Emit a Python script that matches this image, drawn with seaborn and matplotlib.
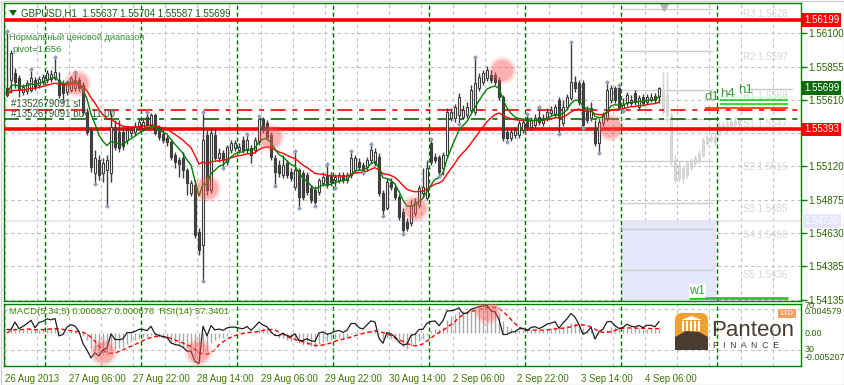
import numpy as np
import pandas as pd
import matplotlib
matplotlib.use("Agg")
import matplotlib.pyplot as plt
import matplotlib.transforms as mtransforms
from matplotlib.patches import Rectangle, Polygon, FancyBboxPatch
import seaborn as sns

sns.set_theme(style="white")
plt.rcParams['font.family'] = ['Liberation Sans', 'DejaVu Sans']

# ---------------- data ----------------
symbol_title = "GBPUSD,H1  1.55637 1.55704 1.55587 1.55699"
x_labels = ["26 Aug 2013", "27 Aug 06:00", "27 Aug 22:00", "28 Aug 14:00", "29 Aug 06:00",
            "29 Aug 22:00", "30 Aug 14:00", "2 Sep 06:00", "2 Sep 22:00", "3 Sep 14:00", "4 Sep 06:00"]
x_label_bars = [0, 16, 32, 48, 64, 80, 96, 112, 128, 144, 160]
day_start_bars = [10, 34, 58, 82, 106, 130, 154, 178]

opens = [1.55697, 1.55756, 1.55808, 1.55771, 1.55668, 1.55675, 1.55683, 1.55756, 1.55719, 1.55741,
         1.55756, 1.55764, 1.55771, 1.55756, 1.55734, 1.55668, 1.55683, 1.55697, 1.55756, 1.55719,
         1.55521, 1.55388, 1.55072, 1.55167, 1.55072, 1.55094, 1.55072, 1.55410, 1.55374, 1.55374,
         1.55315, 1.55366, 1.55374, 1.55410, 1.55403, 1.55484, 1.55425, 1.55499, 1.55403, 1.55359,
         1.55329, 1.55300, 1.55204, 1.55167, 1.55182, 1.55094, 1.54925, 1.54983, 1.54638, 1.54542,
         1.55351, 1.54947, 1.55351, 1.55182, 1.55219, 1.55153, 1.55241, 1.55256, 1.55241, 1.55315,
         1.55241, 1.55256, 1.55241, 1.55300, 1.55469, 1.55440, 1.55351, 1.55182, 1.55131, 1.55057,
         1.55145, 1.55079, 1.54969, 1.55094, 1.55072, 1.55057, 1.54961, 1.54947, 1.54932, 1.54998,
         1.55057, 1.55057, 1.55020, 1.55020, 1.55057, 1.55020, 1.55057, 1.55094, 1.55153, 1.55131,
         1.55116, 1.55167, 1.55145, 1.55190, 1.54925, 1.54814, 1.55006, 1.54961, 1.54895, 1.54785,
         1.54711, 1.54704, 1.54777, 1.54836, 1.54925, 1.54888, 1.55293, 1.55190, 1.55190, 1.55109,
         1.55204, 1.55477, 1.55477, 1.55499, 1.55484, 1.55499, 1.55535, 1.55521, 1.55697, 1.55741,
         1.55771, 1.55793, 1.55793, 1.55756, 1.55631, 1.55374, 1.55329, 1.55351, 1.55351, 1.55388,
         1.55447, 1.55410, 1.55425, 1.55484, 1.55440, 1.55477, 1.55513, 1.55499, 1.55609, 1.55440,
         1.55558, 1.55624, 1.55741, 1.55734, 1.55734, 1.55535, 1.55477, 1.55403, 1.55293, 1.55440,
         1.55477, 1.55609, 1.55697, 1.55697, 1.55550, 1.55587, 1.55587, 1.55660, 1.55558, 1.55631,
         1.55594, 1.55609, 1.55638, 1.55637]
highs = [1.56110, 1.55977, 1.55845, 1.55793, 1.55727, 1.55756, 1.55830, 1.55778, 1.55786, 1.55800,
         1.55830, 1.55830, 1.55918, 1.55815, 1.55756, 1.55756, 1.55786, 1.55808, 1.55778, 1.55741,
         1.55550, 1.55403, 1.55241, 1.55204, 1.55182, 1.55204, 1.55521, 1.55462, 1.55462, 1.55403,
         1.55410, 1.55410, 1.55447, 1.55477, 1.55477, 1.55513, 1.55513, 1.55513, 1.55425, 1.55388,
         1.55351, 1.55315, 1.55226, 1.55190, 1.55226, 1.55109, 1.55020, 1.55020, 1.54667, 1.55513,
         1.55388, 1.55403, 1.55403, 1.55256, 1.55241, 1.55278, 1.55315, 1.55315, 1.55293, 1.55344,
         1.55351, 1.55278, 1.55337, 1.55484, 1.55484, 1.55462, 1.55374, 1.55204, 1.55167, 1.55204,
         1.55167, 1.55109, 1.55226, 1.55109, 1.55094, 1.55079, 1.54983, 1.54976, 1.55035, 1.55079,
         1.55131, 1.55079, 1.55064, 1.55079, 1.55079, 1.55079, 1.55226, 1.55204, 1.55182, 1.55153,
         1.55190, 1.55278, 1.55256, 1.55219, 1.54947, 1.55035, 1.55035, 1.54983, 1.54917, 1.54814,
         1.54741, 1.54873, 1.54888, 1.54983, 1.55109, 1.55167, 1.55315, 1.55219, 1.55204, 1.55226,
         1.55550, 1.55550, 1.55580, 1.55660, 1.55572, 1.55594, 1.55719, 1.55918, 1.55808, 1.55830,
         1.55859, 1.55830, 1.55815, 1.55778, 1.55646, 1.55403, 1.55403, 1.55410, 1.55462, 1.55477,
         1.55499, 1.55484, 1.55506, 1.55550, 1.55506, 1.55550, 1.55565, 1.55580, 1.55631, 1.55609,
         1.55653, 1.56029, 1.55786, 1.55756, 1.55756, 1.55565, 1.55594, 1.55462, 1.55477, 1.55521,
         1.55734, 1.55719, 1.55712, 1.55712, 1.55624, 1.55668, 1.55646, 1.55683, 1.55646, 1.55653,
         1.55653, 1.55660, 1.55660, 1.55704]
lows = [1.55631, 1.55660, 1.55697, 1.55631, 1.55646, 1.55653, 1.55668, 1.55683, 1.55697, 1.55719,
        1.55734, 1.55741, 1.55756, 1.55624, 1.55609, 1.55646, 1.55668, 1.55675, 1.55675, 1.55499,
        1.55351, 1.55079, 1.54998, 1.55020, 1.55006, 1.54836, 1.55006, 1.55241, 1.55226, 1.55241,
        1.55285, 1.55337, 1.55351, 1.55388, 1.55381, 1.55403, 1.55410, 1.55351, 1.55315, 1.55293,
        1.55270, 1.55167, 1.55109, 1.55042, 1.55035, 1.54910, 1.54902, 1.54593, 1.54468, 1.54284,
        1.54910, 1.54925, 1.55167, 1.55153, 1.55116, 1.55131, 1.55219, 1.55234, 1.55219, 1.55219,
        1.55219, 1.55145, 1.55219, 1.55278, 1.55366, 1.55315, 1.55167, 1.54983, 1.55042, 1.55035,
        1.55035, 1.55013, 1.54947, 1.54822, 1.54873, 1.54910, 1.54851, 1.54836, 1.54910, 1.54976,
        1.54961, 1.54976, 1.54969, 1.54998, 1.54998, 1.54998, 1.55035, 1.55079, 1.55094, 1.55079,
        1.55094, 1.55145, 1.55123, 1.54902, 1.54763, 1.54799, 1.54947, 1.54873, 1.54726, 1.54630,
        1.54645, 1.54682, 1.54755, 1.54814, 1.54895, 1.54873, 1.55131, 1.55145, 1.55057, 1.55057,
        1.55182, 1.55454, 1.55447, 1.55440, 1.55469, 1.55477, 1.55513, 1.55499, 1.55675, 1.55719,
        1.55749, 1.55734, 1.55719, 1.55609, 1.55307, 1.55307, 1.55307, 1.55329, 1.55329, 1.55366,
        1.55388, 1.55388, 1.55403, 1.55425, 1.55418, 1.55454, 1.55491, 1.55477, 1.55366, 1.55418,
        1.55535, 1.55609, 1.55668, 1.55572, 1.55410, 1.55440, 1.55454, 1.55270, 1.55226, 1.55418,
        1.55454, 1.55587, 1.55587, 1.55535, 1.55535, 1.55565, 1.55565, 1.55572, 1.55535, 1.55565,
        1.55580, 1.55594, 1.55587, 1.55587]
closes = [1.55646, 1.55955, 1.55741, 1.55683, 1.55705, 1.55734, 1.55771, 1.55705, 1.55764, 1.55778,
          1.55808, 1.55800, 1.55815, 1.55646, 1.55660, 1.55741, 1.55771, 1.55756, 1.55697, 1.55521,
          1.55374, 1.55116, 1.55182, 1.55057, 1.55145, 1.55167, 1.55410, 1.55263, 1.55256, 1.55270,
          1.55388, 1.55388, 1.55410, 1.55447, 1.55447, 1.55425, 1.55499, 1.55366, 1.55337, 1.55315,
          1.55300, 1.55190, 1.55153, 1.55138, 1.55094, 1.54998, 1.54998, 1.54615, 1.54505, 1.55315,
          1.54947, 1.55366, 1.55182, 1.55219, 1.55167, 1.55263, 1.55293, 1.55293, 1.55263, 1.55241,
          1.55315, 1.55204, 1.55315, 1.55469, 1.55388, 1.55337, 1.55190, 1.55079, 1.55072, 1.55131,
          1.55057, 1.55035, 1.55094, 1.54895, 1.54895, 1.54932, 1.54873, 1.54858, 1.55020, 1.55042,
          1.54983, 1.55006, 1.55042, 1.55057, 1.55020, 1.55057, 1.55182, 1.55182, 1.55116, 1.55094,
          1.55167, 1.55241, 1.55226, 1.54925, 1.54799, 1.55006, 1.54969, 1.54895, 1.54748, 1.54652,
          1.54667, 1.54836, 1.54858, 1.54961, 1.54969, 1.55109, 1.55153, 1.55167, 1.55079, 1.55204,
          1.55521, 1.55521, 1.55558, 1.55631, 1.55535, 1.55558, 1.55683, 1.55734, 1.55778, 1.55808,
          1.55830, 1.55756, 1.55741, 1.55631, 1.55329, 1.55329, 1.55374, 1.55388, 1.55440, 1.55447,
          1.55410, 1.55462, 1.55477, 1.55447, 1.55477, 1.55521, 1.55535, 1.55558, 1.55477, 1.55558,
          1.55631, 1.55741, 1.55697, 1.55594, 1.55425, 1.55462, 1.55550, 1.55293, 1.55447, 1.55499,
          1.55683, 1.55697, 1.55609, 1.55550, 1.55572, 1.55646, 1.55609, 1.55594, 1.55624, 1.55587,
          1.55631, 1.55631, 1.55609, 1.55699]

# faded projection candles to the right of the last bar
ghost_open = [1.55668, 1.55646, 1.55499, 1.55167, 1.55131, 1.55109, 1.55057, 1.55109, 1.55145, 1.55167,
              1.55204, 1.55293, 1.55315, 1.55300, 1.55351, 1.55403, 1.55388, 1.55418, 1.55425, 1.55432]
ghost_high = [1.55815, 1.55815, 1.55521, 1.55204, 1.55167, 1.55131, 1.55167, 1.55182, 1.55204, 1.55241,
              1.55337, 1.55351, 1.55366, 1.55366, 1.55447, 1.55447, 1.55462, 1.55477, 1.55484, 1.55477]
ghost_low = [1.55499, 1.55447, 1.55131, 1.55006, 1.55006, 1.54998, 1.55035, 1.55094, 1.55123, 1.55145,
             1.55190, 1.55278, 1.55300, 1.55278, 1.55344, 1.55381, 1.55366, 1.55388, 1.55403, 1.55410]
ghost_close = [1.55521, 1.55499, 1.55167, 1.55020, 1.55035, 1.55035, 1.55145, 1.55153, 1.55182, 1.55219,
               1.55315, 1.55329, 1.55337, 1.55337, 1.55418, 1.55425, 1.55432, 1.55447, 1.55454, 1.55462]

fractal_up = [0, 6, 12, 17, 26, 35, 49, 60, 63, 72, 80, 86, 91, 106, 117, 130, 133, 141, 150, 153]
fractal_dn = [14, 22, 25, 49, 54, 67, 73, 77, 82, 89, 94, 99, 108, 113, 125, 138, 144, 148, 154]

cross_bar = [17.5, 50, 65.75, 102, 123.75, 150.75]
cross_price = [1.55734, 1.54961, 1.55337, 1.54814, 1.55830, 1.55410]
macd_cross_bar = [24, 47.75, 120]
macd_cross_val = [-0.0030, -0.0030, 0.0036]

price_ticks = [1.56100, 1.55855, 1.55610, 1.55120, 1.54875, 1.54630, 1.54385, 1.54140]
price_tick_labels = ["1.56100", "1.55855", "1.55610", "1.55120", "1.54875", "1.54630", "1.54385", "1.54135"]
grid_prices = [1.56100, 1.55855, 1.55610, 1.55365, 1.55120, 1.54875, 1.54630, 1.54385, 1.54140]

range_high, range_low = 1.56199, 1.55393
sl_level, buy_level = 1.55535, 1.55469
week_level = 1.54720
pivot_names = ["R3", "R2", "R1", "S1", "S2", "S3", "S4", "S5"]
pivot_values = [1.5628, 1.5597, 1.5568, 1.5547, 1.5516, 1.5485, 1.5466, 1.5436]
d1_level, h4_levels, h1_level, w1_level = 1.55550, [1.55609, 1.55580], 1.55690, 1.54150

# ---------------- figure ----------------
W, H = 845, 385
fig = plt.figure(figsize=(W / 100, H / 100), dpi=100)
fig.patch.set_facecolor("white")
TP = mtransforms.Affine2D().scale(1 / W, -1 / H).translate(0, 1) + fig.transFigure


def frect(x0, y0, x1, y1):
    return [x0 / W, 1 - y1 / H, (x1 - x0) / W, (y1 - y0) / H]


ax = fig.add_axes(frect(4, 3, 801, 301))
axm = fig.add_axes(frect(4, 304, 801, 366))
GREEN = "#008000"
TXT = "#2a6400"
XMIN, XMAX = -0.75, 198.5

for a in (ax, axm):
    a.set_facecolor("white")
    a.set_xlim(XMIN, XMAX)
    for s in a.spines.values():
        s.set_color(GREEN)
        s.set_linewidth(1)
    for k in range(0, 26):
        a.axvline(8 * k - 0.5, color="#c0c0c0", ls=(0, (3, 3)), lw=0.8, zorder=0)
    for d in day_start_bars:
        a.axvline(d - 0.5, color="#007000", ls=(0, (3, 2)), lw=1, zorder=1)

ax.set_ylim(1.54130, 1.56323)
for gp in grid_prices:
    ax.axhline(gp, color="#c0c0c0", ls=(0, (3, 3)), lw=0.8, zorder=0)

O = np.array(opens); Hh = np.array(highs); L = np.array(lows); C = np.array(closes)
idx = np.arange(len(C))

# weekly range box and levels
ax.add_patch(Rectangle((153.5, 1.54130), 177.25 - 153.5, week_level - 1.54130,
                       facecolor="#e6e6fa", edgecolor="none", zorder=0.5))
ax.axhline(week_level, color="#e2e2f2", lw=1.2, zorder=0.6)
for nm, pv in zip(pivot_names, pivot_values):
    ax.hlines(pv, 153.5, 176.5, color="#cccccc", lw=1, zorder=1.5)
    ax.text(184, pv - 0.00004, f"{nm} {pv:.4f}", color="#d6d6d6", fontsize=7,
            va="top", ha="left", zorder=1.5)

ax.axhline(range_high, color="#ff0000", lw=2.6, zorder=3)
ax.axhline(range_low, color="#ff0000", lw=2.6, zorder=3)
ax.axhline(sl_level, color="#ff0000", lw=1.2, ls=(0, (9, 4, 3, 4)), zorder=3)
ax.axhline(buy_level, color="#007000", lw=1.2, ls=(0, (9, 4, 3, 4)), zorder=3)

# ghost candles
gi = np.arange(len(C), len(C) + len(ghost_close))
gO = np.array(ghost_open); gC = np.array(ghost_close)
ax.vlines(gi, ghost_low, ghost_high, color="#d4d4d4", lw=1, zorder=2)
ax.bar(gi, np.maximum(np.abs(gC - gO), 0.00002), bottom=np.minimum(gO, gC), width=0.72,
       color="#dadada", edgecolor="#d0d0d0", lw=0.6, zorder=2)
ax.plot([len(C) + 0.2], [1.56295], marker="v", color="#b4b4b4", ms=6, zorder=2)

# moving averages
ema_fast = pd.Series(C).ewm(span=8, adjust=False).mean().values
ema_slow = pd.Series(C).ewm(span=21, adjust=False).mean().values
sns.lineplot(x=idx, y=ema_slow, ax=ax, color="#ff0000", lw=1, legend=False, zorder=6)
sns.lineplot(x=idx, y=ema_fast, ax=ax, color="#008000", lw=1, legend=False, zorder=6)

# candles
up = C >= O
body_b = np.minimum(O, C)
body_h = np.maximum(np.abs(C - O), 0.00002)
ax.vlines(idx, L, Hh, color="#3c3c3c", lw=1, zorder=4)
ax.bar(idx[up], body_h[up], bottom=body_b[up], width=0.72, color="white",
       edgecolor="#3c3c3c", lw=0.8, zorder=5)
ax.bar(idx[~up], body_h[~up], bottom=body_b[~up], width=0.72, color="#454545",
       edgecolor="#3c3c3c", lw=0.8, zorder=5)

# fractals
ax.scatter(fractal_up, Hh[fractal_up] + 0.00010, marker="D", s=6, color="#8a9cc0", zorder=7, lw=0)
ax.scatter(fractal_dn, L[fractal_dn] - 0.00010, marker="D", s=6, color="#8a9cc0", zorder=7, lw=0)


def glow(a, xs, ys):
    for s, al in ((420, 0.10), (320, 0.15), (230, 0.30)):
        a.scatter(xs, ys, s=s, color="#ff5a5a", alpha=al, lw=0, zorder=8)


glow(ax, cross_bar, cross_price)

# multi-timeframe markers
ax.hlines(d1_level, 174.5, 195.25, color="#ff3c00", lw=1.3, zorder=3)
ax.hlines(h4_levels, 178.25, 195.25, color="#22dd22", lw=1.3, zorder=3)
ax.hlines(h1_level, 185, 196.5, color="#c8c8c8", lw=1, zorder=3)
ax.text(174.3, 1.55587, "d1", color="#3aa03a", fontsize=9.5, va="bottom", ha="left", zorder=9)
ax.text(178.4, 1.55612, "h4", color="#3aa03a", fontsize=9.5, va="bottom", ha="left", zorder=9)
ax.text(182.7, 1.55640, "h1", color="#3aa03a", fontsize=9.5, va="bottom", ha="left", zorder=9)
ax.hlines(w1_level, 170.5, 195.25, color="#22cc22", lw=2, zorder=3)
ax.text(170.6, w1_level + 0.00012, "w1", color="#3aa03a", fontsize=9, va="bottom", ha="left", zorder=9,
        bbox=dict(facecolor="white", edgecolor="none", pad=0.6))

ax.set_xticks([])
ax.yaxis.tick_right()
ax.set_yticks(price_ticks)
ax.set_yticklabels(price_tick_labels)
ax.tick_params(axis="y", direction="out", length=4, width=1, color=GREEN, labelcolor=TXT,
               labelsize=7.1, pad=1.5)

# price tags
blend = mtransforms.blended_transform_factory(ax.transAxes, ax.transData)
x0 = (802 - 4) / 797
wid = (841 - 802) / 797
for val, fc, tc in ((1.56199, "#ff0000", "white"), (1.55699, "#0b6b0b", "white"),
                    (1.55393, "#ff0000", "white"), (1.54720, "#e6e6fa", "#fafaff")):
    ax.add_patch(Rectangle((x0, val - 0.00050), wid, 0.00100, transform=blend,
                           facecolor=fc, edgecolor="none", clip_on=False, zorder=10))
    ax.text(x0 + 0.0035, val, f"{val:.5f}", transform=blend, color=tc, fontsize=7.0,
            va="center", ha="left", clip_on=False, zorder=11)

# ---------------- MACD / RSI panel ----------------
close_s = pd.Series(C)
macd = close_s.ewm(span=5, adjust=False).mean() - close_s.ewm(span=34, adjust=False).mean()
signal = macd.rolling(5, min_periods=1).mean()
delta = close_s.diff().fillna(0)
ag = delta.clip(lower=0).ewm(alpha=1 / 14, adjust=False).mean()
al = (-delta.clip(upper=0)).ewm(alpha=1 / 14, adjust=False).mean()
rsi = (100 - 100 / (1 + ag / al.replace(0, np.nan))).fillna(50)

axm.set_ylim(-0.005207, 0.004579)
axm.vlines(idx, 0, macd.values, color="#a8a8a8", lw=1, zorder=2)
sns.lineplot(x=idx, y=signal.values, ax=axm, color="#ff0000", lw=1, legend=False, zorder=3)
axm.lines[-1].set_linestyle((0, (3, 2)))
axr = axm.twinx()
axr.set_ylim(14.4, 74.9)
axr.set_xlim(XMIN, XMAX)
axr.axhline(70, color="#c0c0c0", ls=(0, (3, 3)), lw=0.8, zorder=0)
axr.axhline(30, color="#c0c0c0", ls=(0, (3, 3)), lw=0.8, zorder=0)
sns.lineplot(x=idx, y=rsi.values, ax=axr, color="#1e1e1e", lw=0.9, legend=False, zorder=4)
axr.set_yticks([]); axr.set_ylabel("")
for s in axr.spines.values():
    s.set_visible(False)
glow(axr, macd_cross_bar,
     [14.4 + (v + 0.005207) / 0.009786 * 60.5 for v in macd_cross_val])

axm.set_yticks([])
axm.set_ylabel("")
axm.set_xticks([b - 0.5 for b in x_label_bars])
axm.set_xticklabels(x_labels)
axm.tick_params(axis="x", direction="out", length=3, width=1, color=GREEN, labelcolor="#3c7a00",
                labelsize=6.9, pad=2.5)
for t in axm.get_xticklabels():
    t.set_ha("left")

for y, s in ((305, "70"), (312, "0.004579"), (333, "0.00"), (349, "30"), (358, "-0.005207")):
    fig.text(805, y, s, transform=TP, color=TXT, fontsize=6.4, va="center", ha="left")
fig.text(9, 312, "MACD(5,34,5) 0.000827 0.000676  RSI(14) 57.3401", transform=TP,
         color="#3c8a00", fontsize=6.8, va="center", ha="left")

# ---------------- texts ----------------
fig.add_artist(Polygon([[9, 10], [17, 10], [13, 16]], closed=True, transform=TP,
                       facecolor="#0a6a0a", edgecolor="none"))
fig.text(21, 13, symbol_title, transform=TP, color="#0e620e", fontsize=7.0, va="center", ha="left")
fig.text(9, 38, "Нормальный ценовой диапазон", transform=TP, color="#2f8f2f", fontsize=6.6,
         va="center", ha="left")
fig.text(12, 50, "pivot=1,556", transform=TP, color="#2f8f2f", fontsize=6.8, va="center", ha="left")
fig.text(11, 104, "#1352679091 sl", transform=TP, color="#2c5f2c", fontsize=7.0, va="center", ha="left")
fig.text(11, 114, "#1352679091 buy 11.00", transform=TP, color="#2c5f2c", fontsize=7.0,
         va="center", ha="left")

# ---------------- logo ----------------
BROWN = "#4b3c31"
ORANGE = "#f0a030"
fig.add_artist(FancyBboxPatch((675, 313), 33, 37, boxstyle="round,pad=0,rounding_size=7",
                              transform=TP, facecolor=ORANGE, edgecolor="none"))
fig.add_artist(Polygon([[675, 350], [675, 337], [686, 331], [699, 332], [708, 337], [708, 350]],
                       closed=True, transform=TP, facecolor=BROWN, edgecolor="none"))
fig.add_artist(Polygon([[681, 320], [691.5, 316], [702, 320]], closed=True, transform=TP,
                       facecolor="white", edgecolor="none"))
for cx in (682, 686, 690, 694, 698):
    fig.add_artist(Rectangle((cx, 321), 2.2, 10, transform=TP, facecolor="white", edgecolor="none"))
fig.text(711, 330, "Panteon", transform=TP, color=BROWN, fontsize=16, va="center", ha="left")
fig.text(713, 346, "F  I  N  A  N  C  E", transform=TP, color=BROWN, fontsize=6.3, va="center", ha="left")
fig.add_artist(Rectangle((778, 309), 18, 9, transform=TP, facecolor="#f0a060", edgecolor="none"))
fig.text(787, 313.5, "LTD", transform=TP, color="white", fontsize=5, va="center", ha="center")

fig.add_artist(Rectangle((0.5, 0.5), W - 1, H - 1, transform=TP, facecolor="none",
                         edgecolor="#d4d4d4", lw=1))

fig.savefig("out.png", dpi=100)
